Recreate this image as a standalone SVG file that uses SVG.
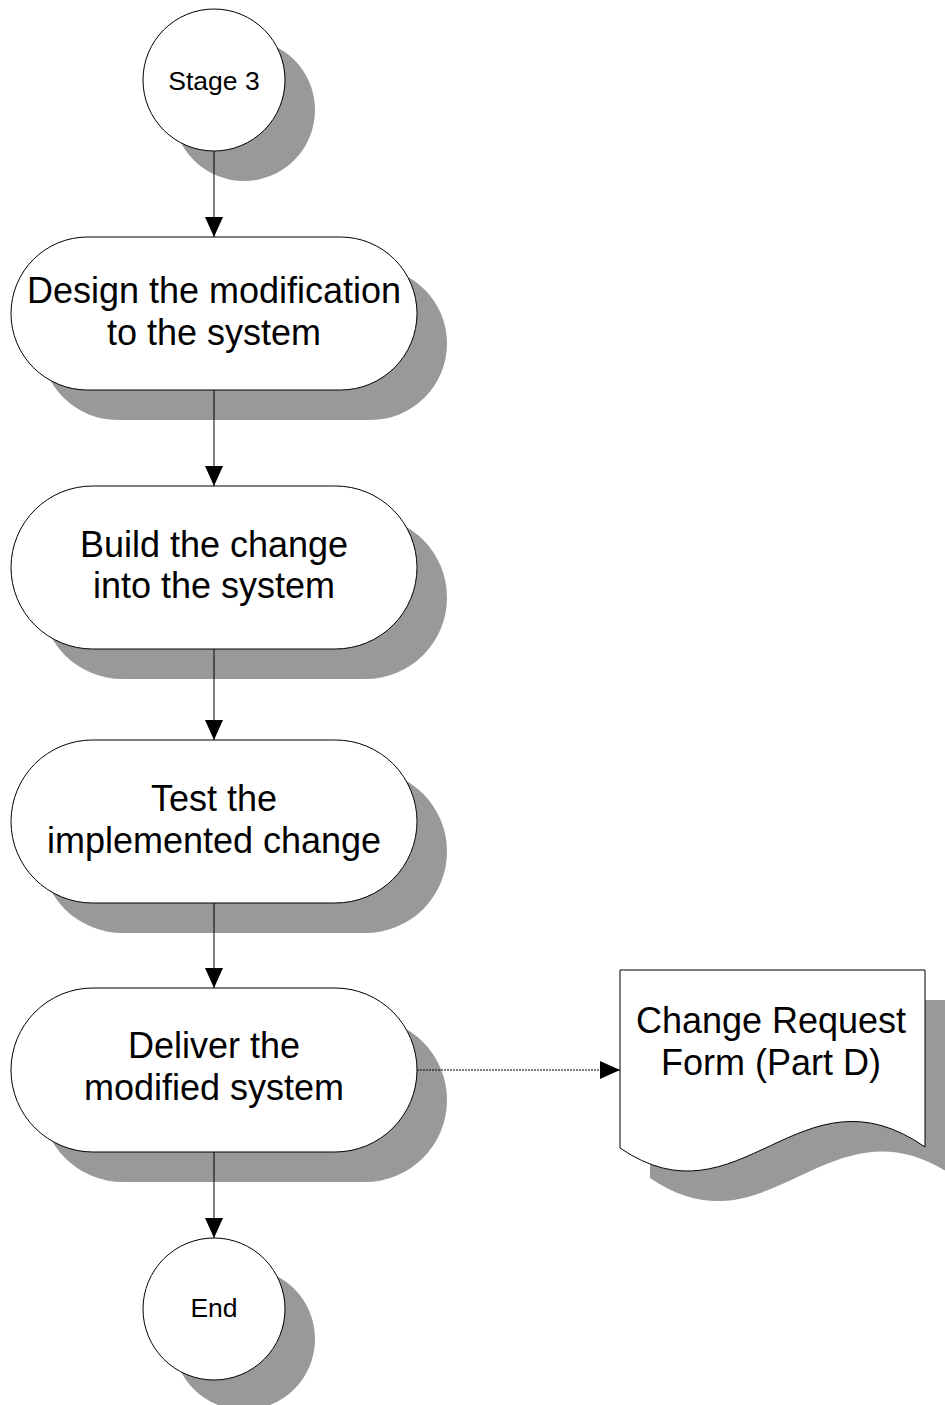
<svg xmlns="http://www.w3.org/2000/svg" width="945" height="1405" viewBox="0 0 945 1405">
<style>
.shadow{fill:#999999;stroke:none}
.shape{fill:#ffffff;stroke:#000000;stroke-width:1}
.big{font-family:"Liberation Sans",Arial,sans-serif;font-size:36px;fill:#000;text-anchor:middle}
.small{font-family:"Liberation Sans",Arial,sans-serif;font-size:26.5px;fill:#000;text-anchor:middle}
.conn{stroke:#000;stroke-width:1;fill:none}
.dash{stroke:#000;stroke-width:1;fill:none;stroke-dasharray:2,1}
</style>
<defs>
<marker id="arrow" markerUnits="userSpaceOnUse" markerWidth="20" markerHeight="18" refX="20" refY="9" orient="auto">
<path d="M0,0 L20,9 L0,18 Z" fill="#000"/>
</marker>
</defs>
<rect width="945" height="1405" fill="#ffffff"/>

<g id="stage3">
<circle class="shadow" cx="244" cy="110" r="71"/>
<circle class="shape" cx="214" cy="80" r="71"/>
<text class="small" x="214" y="90">Stage 3</text>
</g>

<g id="design">
<rect class="shadow" x="41" y="267" width="406" height="153" rx="76.5" ry="76.5"/>
<rect class="shape" x="11" y="237" width="406" height="153" rx="76.5" ry="76.5"/>
<text class="big" x="214" y="303">Design the modification</text>
<text class="big" x="214" y="345">to the system</text>
</g>

<g id="build">
<rect class="shadow" x="41" y="516" width="406" height="163" rx="81.5" ry="81.5"/>
<rect class="shape" x="11" y="486" width="406" height="163" rx="81.5" ry="81.5"/>
<text class="big" x="214" y="557">Build the change</text>
<text class="big" x="214" y="598">into the system</text>
</g>

<g id="test">
<rect class="shadow" x="41" y="770" width="406" height="163" rx="81.5" ry="81.5"/>
<rect class="shape" x="11" y="740" width="406" height="163" rx="81.5" ry="81.5"/>
<text class="big" x="214" y="811">Test the</text>
<text class="big" x="214" y="853">implemented change</text>
</g>

<g id="deliver">
<rect class="shadow" x="41" y="1018" width="406" height="164" rx="82" ry="82"/>
<rect class="shape" x="11" y="988" width="406" height="164" rx="82" ry="82"/>
<text class="big" x="214" y="1058">Deliver the</text>
<text class="big" x="214" y="1100">modified system</text>
</g>

<g id="change-request-form">
<path class="shadow" d="M650,1000 H955 V1177 C830,1090 770,1260 650,1178 Z"/>
<path class="shape" d="M620,970 H925 V1147 C800,1060 740,1230 620,1148 Z"/>
<text class="big" x="771" y="1033">Change Request</text>
<text class="big" x="771" y="1075">Form (Part D)</text>
</g>

<g id="end">
<circle class="shadow" cx="244" cy="1339" r="71"/>
<circle class="shape" cx="214" cy="1309" r="71"/>
<text class="small" x="214" y="1317">End</text>
</g>

<g id="connectors">
<line class="conn" x1="214" y1="151" x2="214" y2="237" marker-end="url(#arrow)"/>
<line class="conn" x1="214" y1="390" x2="214" y2="486" marker-end="url(#arrow)"/>
<line class="conn" x1="214" y1="649" x2="214" y2="740" marker-end="url(#arrow)"/>
<line class="conn" x1="214" y1="903" x2="214" y2="988" marker-end="url(#arrow)"/>
<line class="conn" x1="214" y1="1152" x2="214" y2="1238" marker-end="url(#arrow)"/>
<line class="dash" x1="417" y1="1070" x2="620" y2="1070" marker-end="url(#arrow)"/>
</g>
</svg>
